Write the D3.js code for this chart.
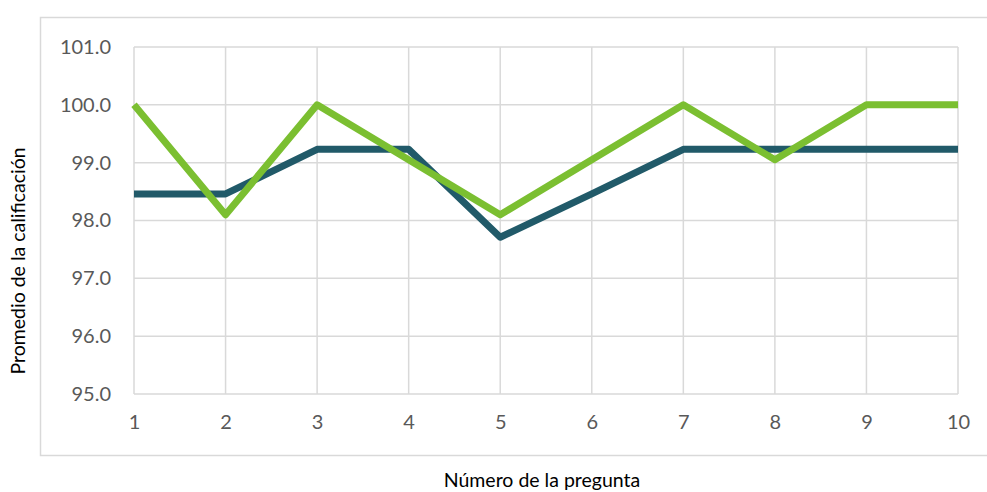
<!DOCTYPE html>
<html>
<head>
<meta charset="utf-8">
<script src="https://cdn.jsdelivr.net/npm/d3@7"></script>
<style>
  html, body { margin: 0; padding: 0; background: #fff; }
  svg { display: block; }
</style>
</head>
<body>
<svg id="chart" width="987" height="492"></svg>
<script>
// Question numbers along the x axis
const preguntas = [1, 2, 3, 4, 5, 6, 7, 8, 9, 10];
// Average grade per question, two groups
const serieOscura = [98.46, 98.46, 99.23, 99.23, 97.71, 98.46, 99.23, 99.23, 99.23, 99.23];
const serieVerde  = [100.0, 98.10, 100.0, 99.05, 98.10, 99.05, 100.0, 99.05, 100.0, 100.0];
// Y axis ticks
const yTicks = [95, 96, 97, 98, 99, 100, 101];

const svg = d3.select("#chart");
const plot = { left: 134, right: 958, top: 47, bottom: 394 };
const fontFamily = "Lato, 'Open Sans', sans-serif";

// Outer chart frame
svg.append("rect")
  .attr("x", 40.5).attr("y", 17.5)
  .attr("width", 960).attr("height", 438)
  .attr("fill", "#fff").attr("stroke", "#d9d9d9").attr("stroke-width", 1.5);

const x = d3.scaleLinear().domain([1, 10]).range([plot.left, plot.right]);
const y = d3.scaleLinear().domain([95, 101]).range([plot.bottom, plot.top]);

// Gridlines
const grid = svg.append("g").attr("stroke", "#d9d9d9").attr("stroke-width", 1.5);
grid.selectAll("line.h").data(yTicks).join("line")
  .attr("x1", plot.left).attr("x2", plot.right)
  .attr("y1", d => y(d)).attr("y2", d => y(d));
grid.selectAll("line.v").data(preguntas).join("line")
  .attr("y1", plot.top).attr("y2", plot.bottom)
  .attr("x1", d => x(d)).attr("x2", d => x(d));

// Y axis labels
const yAxis = svg.append("g")
  .attr("transform", `translate(${plot.left - 23},0)`)
  .call(d3.axisLeft(y).tickValues(yTicks).tickFormat(d3.format(".1f")).tickSize(0).tickPadding(0));
yAxis.select(".domain").remove();
yAxis.selectAll("text")
  .attr("fill", "#595959")
  .style("font-family", fontFamily)
  .style("font-size", "20px");

// X axis labels
const xAxis = svg.append("g")
  .attr("transform", `translate(0,${plot.bottom + 21})`)
  .call(d3.axisBottom(x).tickValues(preguntas).tickFormat(d3.format("d")).tickSize(0).tickPadding(0));
xAxis.select(".domain").remove();
xAxis.selectAll("text")
  .attr("fill", "#595959")
  .style("font-family", fontFamily)
  .style("font-size", "20px");

// Series lines
const line = d3.line().x((d, i) => x(preguntas[i])).y(d => y(d));
svg.append("path").datum(serieOscura)
  .attr("d", line).attr("fill", "none")
  .attr("stroke", "#215a69").attr("stroke-width", 7)
  .attr("stroke-linejoin", "round");
svg.append("path").datum(serieVerde)
  .attr("d", line).attr("fill", "none")
  .attr("stroke", "#7bbf31").attr("stroke-width", 7)
  .attr("stroke-linejoin", "round");

// Axis titles
svg.append("text")
  .attr("transform", "translate(25,261) rotate(-90)")
  .attr("text-anchor", "middle")
  .attr("fill", "#000")
  .style("font-family", fontFamily)
  .style("font-size", "19.5px")
  .text("Promedio de la calificación");
svg.append("text")
  .attr("x", 542).attr("y", 487)
  .attr("text-anchor", "middle")
  .attr("fill", "#000")
  .style("font-family", fontFamily)
  .style("font-size", "19.5px")
  .text("Número de la pregunta");
</script>
</body>
</html>
